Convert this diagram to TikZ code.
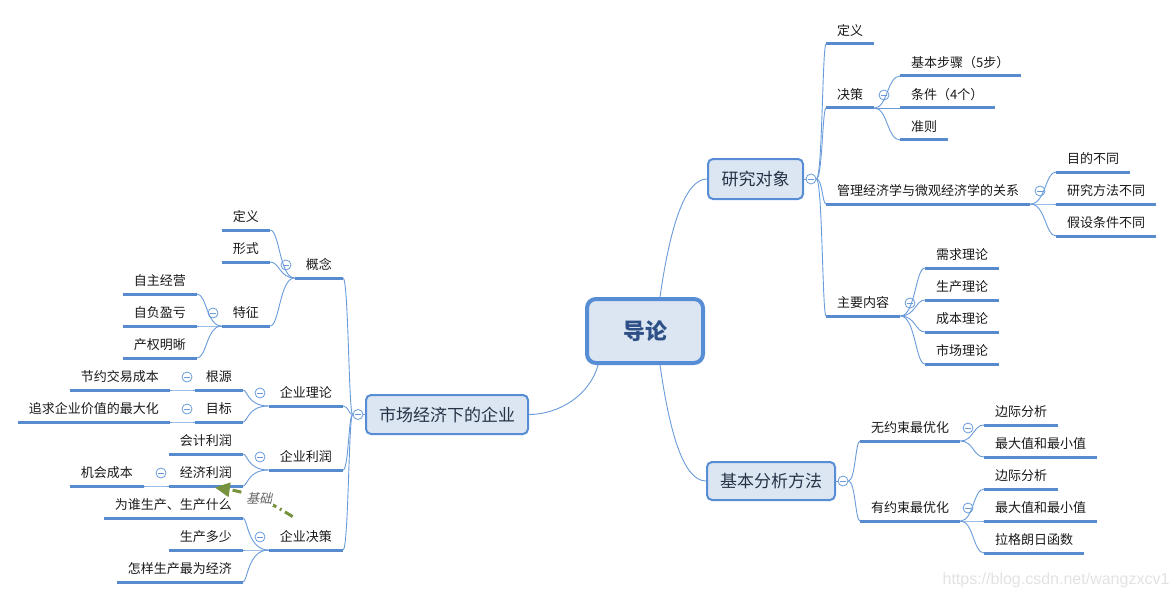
\documentclass[tikz,border=0pt]{standalone}
\usepackage{fontspec}
\setmainfont{Noto Sans CJK SC}
\newfontfamily\wmfont{Liberation Sans}
\newfontfamily\slfont{Noto Sans CJK SC}[FakeSlant=0.25]
\usetikzlibrary{calc,arrows.meta}
\definecolor{bordblue}{RGB}{86,141,212}
\definecolor{boxfill}{RGB}{220,230,242}
\definecolor{ulblue}{RGB}{88,138,206}
\definecolor{connblue}{RGB}{105,155,218}
\definecolor{basisgreen}{RGB}{118,146,60}
\definecolor{boxtext}{RGB}{38,50,70}
\definecolor{roottext}{RGB}{46,80,135}
\definecolor{wmgray}{RGB}{226,226,226}
\tikzset{
  topic/.style={inner xsep=11pt, inner ysep=5pt, text height=10pt, text depth=3pt,
    font=\fontsize{13}{15}\selectfont, text=black!90},
  ul/.style={ulblue, line width=3pt},
  conn/.style={connblue, line width=0.9pt},
  mainbox/.style={draw=bordblue, fill=boxfill, line width=2pt, rounded corners=5pt,
    font=\fontsize{17}{20}\selectfont, text=boxtext, inner sep=0pt},
  rootbox/.style={draw=bordblue, fill=boxfill, line width=4pt, rounded corners=9pt,
    font=\fontsize{22}{26}\selectfont\bfseries, text=roottext, inner sep=0pt,
    minimum width=116pt, minimum height=64pt},
  coll/.style={circle, draw=connblue, fill=white, minimum size=10pt, inner sep=0pt, line width=0.8pt,
    path picture={\draw[connblue,line width=0.8pt]
      ([xshift=-3pt]path picture bounding box.center) -- ([xshift=3pt]path picture bounding box.center);}},
  basis/.style={basisgreen, line width=3pt, dash pattern=on 9pt off 4pt on 2pt off 4pt,
    -{Triangle[length=15pt,width=14pt]}},
}
\newcommand\tpr[3]{\node[topic,anchor=south west] (#1) at (#2) {#3};
  \draw[ul] (#1.south west) -- (#1.south east);}
\newcommand\tpl[3]{\node[topic,anchor=south east] (#1) at (#2) {#3};
  \draw[ul] (#1.south west) -- (#1.south east);}
\newcommand\rconn[3]{\draw[conn] let \p1=(#1), \p2=(#2) in
  (\p1) .. controls (\x1+#3,\y1) and (\x1+#3,\y2) .. (\p2);}
\newcommand\lconn[3]{\draw[conn] let \p1=(#1), \p2=(#2) in
  (\p1) .. controls (\x1-#3,\y1) and (\x1-#3,\y2) .. (\p2);}
\begin{document}
\begin{tikzpicture}[x=1pt,y=-1pt]
\useasboundingbox (0,0) rectangle (1175,599);

% main boxes
\node[rootbox] (zl) at (645,331) {导论};
\node[mainbox, minimum width=95pt, minimum height=40pt] (yj) at (755.5,179) {研究对象};
\node[mainbox, minimum width=128pt, minimum height=38pt] (jb) at (771,481) {基本分析方法};
\node[mainbox, minimum width=162pt, minimum height=39pt] (sc) at (447,414.5) {市场经济下的企业};

% root connectors
\draw[conn] ([xshift=15pt]zl.north) .. controls ([xshift=25pt,yshift=70pt]zl.north) and ([xshift=-22pt]yj.west) .. (yj.west);
\draw[conn] ([xshift=15pt]zl.south) .. controls ([xshift=25pt,yshift=-70pt]zl.south) and ([xshift=-22pt]jb.west) .. (jb.west);
\draw[conn] ([xshift=-47pt]zl.south) .. controls ([xshift=-55pt,yshift=-30pt]zl.south) and ([xshift=30pt]sc.east) .. (sc.east);

% right: 研究对象
\tpr{d1}{826,44}{定义}
\tpr{d2}{826,108}{决策}
\tpr{d3}{826,204}{管理经济学与微观经济学的关系}
\tpr{d4}{826,316}{主要内容}
\tpr{e1}{900,76}{基本步骤（5步）}
\tpr{e2}{900,108}{条件（4个）}
\tpr{e3}{900,140}{准则}
\tpr{f1}{1056,172}{目的不同}
\tpr{f2}{1056,204}{研究方法不同}
\tpr{f3}{1056,236}{假设条件不同}
\tpr{g1}{925,268}{需求理论}
\tpr{g2}{925,300}{生产理论}
\tpr{g3}{925,332}{成本理论}
\tpr{g4}{925,364}{市场理论}

% right: 基本分析方法
\tpr{h1}{860,441}{无约束最优化}
\tpr{h2}{860,521}{有约束最优化}
\tpr{i1}{984,425}{边际分析}
\tpr{i2}{984,457}{最大值和最小值}
\tpr{j1}{984,489}{边际分析}
\tpr{j2}{984,521}{最大值和最小值}
\tpr{j3}{984,553}{拉格朗日函数}

% left: 市场经济下的企业
\tpl{k1}{343,278}{概念}
\tpl{k2}{343,406}{企业理论}
\tpl{k3}{343,470}{企业利润}
\tpl{k4}{343,550}{企业决策}
\tpl{l1}{270,230}{定义}
\tpl{l2}{270,262}{形式}
\tpl{l3}{270,326}{特征}
\tpl{m1}{197,294}{自主经营}
\tpl{m2}{197,326}{自负盈亏}
\tpl{m3}{197,358}{产权明晰}
\tpl{n1}{243,390}{根源}
\tpl{n2}{243,422}{目标}
\tpl{o1}{170,390}{节约交易成本}
\tpl{o2}{170,422}{追求企业价值的最大化}
\tpl{p1}{243,454}{会计利润}
\tpl{p2}{243,486}{经济利润}
\tpl{q1}{144,486}{机会成本}
\tpl{r1}{243,518}{为谁生产、生产什么}
\tpl{r2}{243,550}{生产多少}
\tpl{r3}{243,582}{怎样生产最为经济}

% collapse circles
\node[coll] (cyj) at (811,179) {};
\node[coll] (cjb) at (843,481) {};
\node[coll] (csc) at (358,414.5) {};
\node[coll] (cd2) at (884,95) {};
\node[coll] (cd3) at (1040,191) {};
\node[coll] (cd4) at (910,303) {};
\node[coll] (ch1) at (968,428) {};
\node[coll] (ch2) at (968,508) {};
\node[coll] (ck1) at (286,265) {};
\node[coll] (ck2) at (260,393) {};
\node[coll] (ck3) at (260,457) {};
\node[coll] (ck4) at (260,537) {};
\node[coll] (cl3) at (213,313) {};
\node[coll] (cn1) at (187,377) {};
\node[coll] (cn2) at (187,409) {};
\node[coll] (cp2) at (161,473) {};

% box to circle
\draw[conn] (yj.east) -- (cyj.west);
\draw[conn] (jb.east) -- (cjb.west);
\draw[conn] (sc.west) -- (csc.east);

% right connectors
\rconn{cyj.east}{d1.south west}{6pt}
\rconn{cyj.east}{d2.south west}{6pt}
\rconn{cyj.east}{d3.south west}{6pt}
\rconn{cyj.east}{d4.south west}{6pt}
\rconn{d2.south east}{e1.south west}{13pt}
\rconn{d2.south east}{e2.south west}{13pt}
\rconn{d2.south east}{e3.south west}{13pt}
\rconn{d3.south east}{f1.south west}{15pt}
\rconn{d3.south east}{f2.south west}{15pt}
\rconn{d3.south east}{f3.south west}{15pt}
\rconn{d4.south east}{g1.south west}{15pt}
\rconn{d4.south east}{g2.south west}{15pt}
\rconn{d4.south east}{g3.south west}{15pt}
\rconn{d4.south east}{g4.south west}{15pt}
\rconn{cjb.east}{h1.south west}{7pt}
\rconn{cjb.east}{h2.south west}{7pt}
\rconn{h1.south east}{i1.south west}{13pt}
\rconn{h1.south east}{i2.south west}{13pt}
\rconn{h2.south east}{j1.south west}{13pt}
\rconn{h2.south east}{j2.south west}{13pt}
\rconn{h2.south east}{j3.south west}{13pt}

% left connectors
\lconn{csc.west}{k1.south east}{4pt}
\lconn{csc.west}{k2.south east}{4pt}
\lconn{csc.west}{k3.south east}{4pt}
\lconn{csc.west}{k4.south east}{4pt}
\lconn{k1.south west}{l1.south east}{15pt}
\lconn{k1.south west}{l2.south east}{15pt}
\lconn{k1.south west}{l3.south east}{15pt}
\lconn{l3.south west}{m1.south east}{15pt}
\lconn{l3.south west}{m2.south east}{15pt}
\lconn{l3.south west}{m3.south east}{15pt}
\lconn{k2.south west}{n1.south east}{21pt}
\lconn{k2.south west}{n2.south east}{21pt}
\lconn{n1.south west}{o1.south east}{10pt}
\lconn{n2.south west}{o2.south east}{10pt}
\lconn{k3.south west}{p1.south east}{21pt}
\lconn{k3.south west}{p2.south east}{21pt}
\lconn{p2.south west}{q1.south east}{10pt}
\lconn{k4.south west}{r1.south east}{21pt}
\lconn{k4.south west}{r2.south east}{21pt}
\lconn{k4.south west}{r3.south east}{21pt}

% basis arrow
\coordinate (btail) at ([xshift=24pt,yshift=10pt]k4.north west);
\coordinate (btip) at ([xshift=9pt,yshift=-1.5pt]p2.south);
\draw[basis] (btail) to[bend right=12] node[pos=0.45, fill=white, inner sep=1pt, text=black!60,
  font=\slfont\fontsize{13}{15}\selectfont] (jc) {基础} (btip);

% watermark
\node[text=wmgray, font=\wmfont\fontsize{16}{18}\selectfont] (wm) at (1056,580) {https://blog.csdn.net/wangzxcv1};
\end{tikzpicture}
\end{document}
